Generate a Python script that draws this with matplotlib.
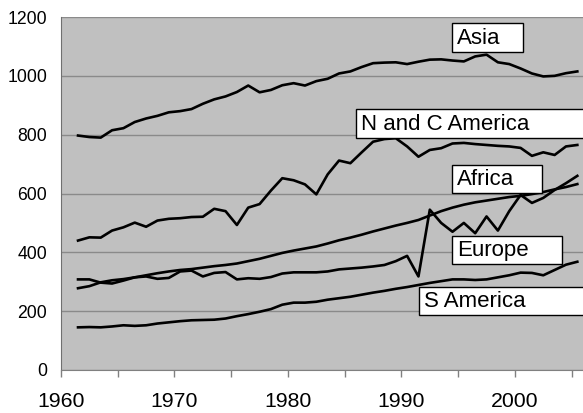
import numpy as np
import matplotlib
matplotlib.use("Agg")
import matplotlib.pyplot as plt
from matplotlib.patches import Rectangle

plt.rcParams["font.family"] = ["Liberation Sans", "DejaVu Sans"]

# -----------------------------
# Data
# -----------------------------
years = list(range(1961, 2006))

asia = [797, 792, 790, 815, 822, 843, 855, 864, 876, 880,
        887, 905, 920, 930, 945, 967, 944, 952, 968, 975,
        967, 982, 990, 1008, 1015, 1030, 1043, 1045, 1046, 1040,
        1048, 1055, 1056, 1052, 1049, 1066, 1072, 1046, 1040, 1025,
        1008, 998, 1000, 1009, 1015]

nc_america = [440, 451, 450, 474, 485, 501, 487, 508, 514, 516,
              520, 521, 548, 540, 493, 552, 564, 610, 652, 645,
              631, 597, 665, 712, 703, 740, 776, 785, 788, 760,
              725, 748, 754, 770, 772, 768, 765, 762, 760, 755,
              728, 740, 731, 760, 765]

africa = [278, 285, 298, 305, 309, 315, 322, 329, 335, 340,
          343, 348, 353, 357, 362, 370, 378, 388, 398, 406,
          413, 420, 430, 441, 450, 460, 471, 481, 491, 500,
          510, 525, 540, 552, 562, 570, 576, 582, 588, 592,
          598, 605, 614, 622, 632]

europe = [308, 308, 297, 294, 304, 315, 318, 310, 313, 335,
          338, 318, 330, 333, 308, 312, 310, 316, 328, 332,
          332, 332, 335, 342, 345, 348, 352, 357, 370, 388,
          318, 545, 500, 470, 500, 465, 522, 474, 540, 595,
          568, 585, 612, 635, 660]

s_america = [145, 146, 145, 148, 152, 150, 152, 158, 162, 166,
             169, 170, 171, 175, 183, 190, 198, 207, 222, 229,
             229, 232, 239, 244, 249, 256, 263, 269, 276, 282,
             289, 296, 302, 308, 308, 306, 308, 315, 322, 331,
             330, 322, 340, 358, 368]

labels = ["Asia", "N and C America", "Africa", "Europe", "S America"]


# -----------------------------
# Figure
# -----------------------------
W, H = 583, 413
fig = plt.figure(figsize=(W / 100, H / 100), dpi=100)

ax_left, ax_right, ax_top, ax_bottom = 61, 583, 17, 370
ax = fig.add_axes([ax_left / W, 1 - ax_bottom / H,
                   (ax_right - ax_left) / W, (ax_bottom - ax_top) / H])
ax.set_facecolor("#c0c0c0")

# points sit in the middle of each year slot
x = np.array(years) + 0.5

for series in [asia, nc_america, africa, europe, s_america]:
    ax.plot(x, series, color="black", linewidth=1.9, zorder=3)

ax.set_xlim(1960, 2006)
ax.set_ylim(0, 1200)

ax.set_yticks(range(0, 1201, 200))
ax.set_xticks(range(1960, 2006, 5))
ax.set_xticklabels([str(y) if y % 10 == 0 else "" for y in range(1960, 2006, 5)])

ax.tick_params(axis="y", length=0, pad=10, labelsize=12.7)
ax.tick_params(axis="x", length=5, width=1, color="#808080",
               pad=10.5, labelsize=15.3)

ax.grid(axis="y", color="#8a8a8a", linewidth=1, zorder=1)
ax.set_axisbelow(True)

for side in ["top", "right"]:
    ax.spines[side].set_visible(False)
ax.spines["left"].set_color("#707070")
ax.spines["bottom"].set_color("#808080")


# -----------------------------
# Label boxes (pixel layout)
# -----------------------------
def px_to_ax(px, py):
    return ((px - ax_left) / (ax_right - ax_left),
            (ax_bottom - py) / (ax_bottom - ax_top))


boxes = [
    (452, 523, 23, 52),
    (356, 590, 109, 138),
    (452, 542, 165, 193),
    (452, 562, 236, 264),
    (419, 590, 287, 315),
]

for label, (x0, x1, y0, y1) in zip(labels, boxes):
    bx, by = px_to_ax(x0, y1)
    bw = (x1 - x0) / (ax_right - ax_left)
    bh = (y1 - y0) / (ax_bottom - ax_top)
    ax.add_patch(Rectangle((bx, by), bw, bh, transform=ax.transAxes,
                           facecolor="white", edgecolor="black",
                           linewidth=1, zorder=5, clip_on=False))
    tx, ty = px_to_ax(x0 + 5, (y0 + y1) / 2 + 0.5)
    ax.text(tx, ty, label, transform=ax.transAxes, fontsize=16,
            ha="left", va="center", zorder=6, clip_on=False)

plt.savefig("out.png", dpi=100)
plt.close()
